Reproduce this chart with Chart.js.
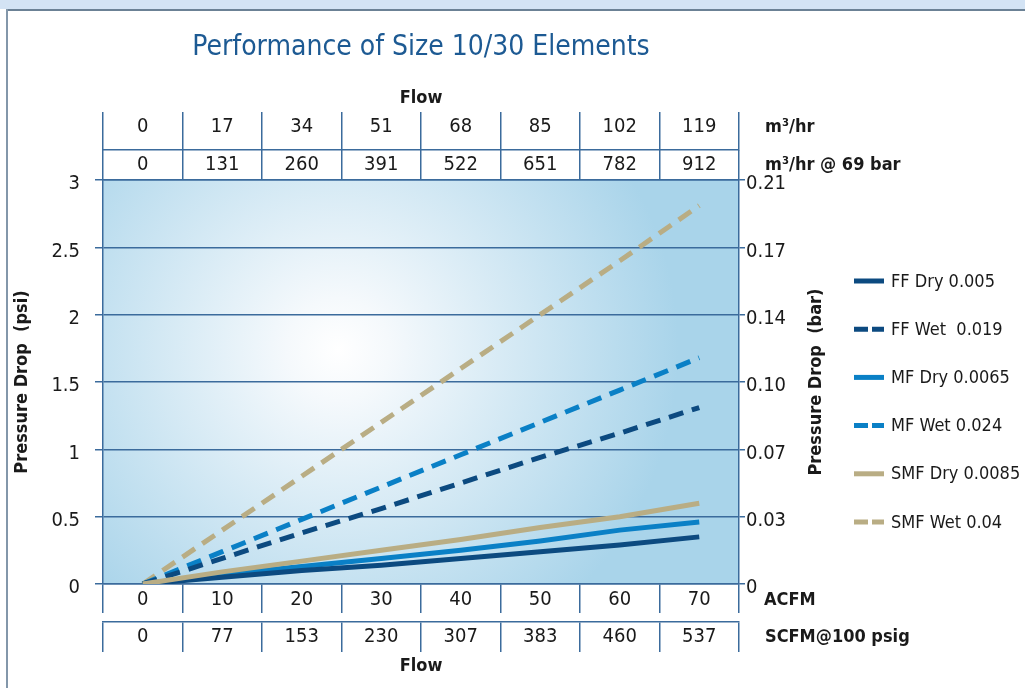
<!DOCTYPE html>
<html>
<head>
<meta charset="utf-8">
<title>Performance of Size 10/30 Elements</title>
<script src="https://cdn.jsdelivr.net/npm/chart.js@4.4.1/dist/chart.umd.min.js"></script>
<style>
  html, body { margin: 0; padding: 0; background: #fff; }
  #wrap { width: 1025px; height: 688px; position: relative; }
</style>
</head>
<body>
<div id="wrap"><canvas id="perfChart" width="1025" height="688"></canvas></div>
<script>
// Flow scales (table rows above and below the plot)
const acfm = [0, 10, 20, 30, 40, 50, 60, 70];
const scfm = [0, 77, 153, 230, 307, 383, 460, 537];
const m3hr = [0, 17, 34, 51, 68, 85, 102, 119];
const m3hr69 = [0, 131, 260, 391, 522, 651, 782, 912];

// Left axis labels (psi) and matching right axis labels (bar)
const psiTicks = ['0', '0.5', '1', '1.5', '2', '2.5', '3'];
const barTicks = ['0', '0.03', '0.07', '0.10', '0.14', '0.17', '0.21'];

// Pressure drop in psi at each ACFM value
const ffDry  = [0, 0.05, 0.10, 0.14, 0.19, 0.24, 0.29, 0.35];
const ffWet  = [0, 0.19, 0.38, 0.56, 0.75, 0.94, 1.12, 1.31];
const mfDry  = [0, 0.07, 0.13, 0.19, 0.25, 0.32, 0.40, 0.46];
const mfWet  = [0, 0.24, 0.48, 0.72, 0.96, 1.20, 1.44, 1.68];
const smfDry = [0, 0.09, 0.17, 0.25, 0.33, 0.42, 0.50, 0.60];
const smfWet = [0, 0.40, 0.80, 1.20, 1.60, 2.00, 2.40, 2.81];

const seriesLabels = ['FF Dry 0.005', 'FF Wet  0.019', 'MF Dry 0.0065', 'MF Wet 0.024', 'SMF Dry 0.0085', 'SMF Wet 0.04'];

const NAVY = '#0c4a80';
const BLUE = '#0a80c6';
const TAN = '#b9ad84';
const LINE = '#3b6b9c';
const FONT = "'Liberation Sans Narrow', 'Arial Narrow', 'DejaVu Sans Condensed', sans-serif";
const DASH = [15, 9];

function pts(values) {
  return acfm.map((x, i) => ({ x: x, y: values[i] }));
}

function makeSet(label, values, color, dashed, order) {
  return {
    label: label,
    data: pts(values),
    borderColor: color,
    backgroundColor: color,
    borderWidth: 5,
    borderDash: dashed ? DASH : [],
    pointRadius: 0,
    tension: 0,
    fill: false,
    order: order
  };
}

// background, frame, right-hand labels and legend
const decorPlugin = {
  id: 'decor',
  beforeDraw(chart) {
    const { ctx, chartArea: a, width, height } = chart;
    ctx.save();
    ctx.fillStyle = '#ffffff';
    ctx.fillRect(0, 0, width, height);
    ctx.fillStyle = '#d3e3f4';
    ctx.fillRect(0, 0, width, 9);
    ctx.fillStyle = '#6b8195';
    ctx.fillRect(6, 9, width - 6, 2);
    ctx.fillStyle = '#8397aa';
    ctx.fillRect(6, 9, 2, height - 9);

    const cx = a.left + (a.right - a.left) * 0.37;
    const cy = a.top + (a.bottom - a.top) * 0.42;
    const g = ctx.createRadialGradient(cx, cy, 0, cx, cy, 340);
    g.addColorStop(0, '#ffffff');
    g.addColorStop(0.15, '#f5f9fc');
    g.addColorStop(1, '#a9d4ea');
    ctx.fillStyle = g;
    ctx.fillRect(a.left, a.top, a.right - a.left, a.bottom - a.top);
    ctx.restore();
  },
  afterDraw(chart) {
    const { ctx, chartArea: a, scales } = chart;
    ctx.save();

    // right axis title
    ctx.fillStyle = '#1a1a1a';
    ctx.font = 'bold 18px ' + FONT;
    ctx.textAlign = 'center';
    ctx.textBaseline = 'middle';
    ctx.translate(816, (a.top + a.bottom) / 2);
    ctx.rotate(-Math.PI / 2);
    ctx.fillText('Pressure Drop  (bar)', 0, 0);
    ctx.restore();

    // unit names beside the table rows
    ctx.save();
    ctx.fillStyle = '#1a1a1a';
    ctx.font = 'bold 18px ' + FONT;
    ctx.textAlign = 'left';
    ctx.textBaseline = 'middle';
    const ux = a.right + 26;
    ctx.fillText('m\u00b3/hr', ux, scales.xTop1.bottom - 23);
    ctx.fillText('m\u00b3/hr @ 69 bar', ux, scales.xTop2.bottom - 15);
    ctx.fillText('ACFM', ux - 1, scales.x.top + 16);
    ctx.fillText('SCFM@100 psig', ux, scales.xBot2.top + 15);

    // legend
    const lx = 854, ly = 281, dy = 48.2;
    ctx.font = '18px ' + FONT;
    chart.data.datasets.forEach((ds, i) => {
      const y = ly + i * dy;
      ctx.strokeStyle = ds.borderColor;
      ctx.lineWidth = 5;
      ctx.lineCap = 'butt';
      ctx.setLineDash(ds.borderDash.length ? [14, 4] : []);
      ctx.beginPath();
      ctx.moveTo(lx, y);
      ctx.lineTo(lx + 30, y);
      ctx.stroke();
      ctx.setLineDash([]);
      ctx.fillStyle = '#1a1a1a';
      ctx.fillText(ds.label, lx + 37, y + 1);
    });
    ctx.restore();
  }
};

function flowAxis(position, weight, height, tickLen, pad, labels, title) {
  const axis = {
    type: 'linear',
    position: position,
    weight: weight,
    min: -5,
    max: 75,
    afterBuildTicks: s => { s.ticks = acfm.map(v => ({ value: v })); },
    afterFit: s => { s.height = height; },
    grid: { offset: true, drawOnChartArea: false, tickLength: tickLen, color: LINE, lineWidth: 1.5 },
    border: { color: LINE, width: 1.5 },
    ticks: {
      padding: pad,
      maxRotation: 0,
      autoSkip: false,
      color: '#1a1a1a',
      font: { family: FONT, size: 20 },
      callback: (v, i) => labels[i]
    }
  };
  if (title) axis.title = title;
  return axis;
}

const ctx = document.getElementById('perfChart');

new Chart(ctx, {
  type: 'line',
  data: {
    datasets: [
      makeSet(seriesLabels[0], ffDry, NAVY, false, 1),
      makeSet(seriesLabels[1], ffWet, NAVY, true, 2),
      makeSet(seriesLabels[2], mfDry, BLUE, false, 1),
      makeSet(seriesLabels[3], mfWet, BLUE, true, 2),
      makeSet(seriesLabels[4], smfDry, TAN, false, 0),
      makeSet(seriesLabels[5], smfWet, TAN, true, 2)
    ]
  },
  options: {
    responsive: false,
    animation: false,
    layout: { padding: 0 },
    plugins: {
      legend: { display: false },
      tooltip: { enabled: false },
      title: {
        display: true,
        fullSize: false,
        text: 'Performance of Size 10/30 Elements',
        color: '#1d5a93',
        font: { family: FONT, size: 28, weight: 'normal' },
        padding: { top: 31, bottom: 20.4 }
      }
    },
    scales: {
      x: flowAxis('bottom', 1, 38, 29, -25, acfm),
      xBot2: flowAxis('bottom', 2, 66, 30, -27, scfm, {
        display: true, text: 'Flow', color: '#1a1a1a',
        font: { family: FONT, size: 18, weight: 'bold' },
        padding: { top: 0, bottom: 11 }
      }),
      xTop2: flowAxis('top', 1, 30, 30, -27, m3hr69),
      xTop1: flowAxis('top', 2, 65, 38, -27, m3hr, {
        display: true, text: 'Flow', color: '#1a1a1a',
        font: { family: FONT, size: 18, weight: 'bold' },
        padding: { top: 3, bottom: 0 }
      }),
      y: {
        position: 'left',
        min: 0,
        max: 3,
        afterFit: s => { s.width = 103; },
        grid: { color: LINE, lineWidth: 1.5, tickLength: 8 },
        border: { color: LINE, width: 1.5 },
        ticks: {
          stepSize: 0.5,
          padding: 15,
          labelOffset: 4,
          color: '#1a1a1a',
          font: { family: FONT, size: 20 },
          callback: (v, i) => psiTicks[i]
        },
        title: {
          display: true,
          text: 'Pressure Drop  (psi)',
          color: '#1a1a1a',
          font: { family: FONT, size: 18, weight: 'bold' },
          padding: { top: 12, bottom: 0 }
        }
      },
      y2: {
        position: 'right',
        min: 0,
        max: 3,
        afterFit: s => { s.width = 286; },
        grid: { drawOnChartArea: false, color: LINE, lineWidth: 1.5, tickLength: 6 },
        border: { color: LINE, width: 1.5 },
        ticks: {
          stepSize: 0.5,
          padding: 1,
          labelOffset: 4,
          color: '#1a1a1a',
          font: { family: FONT, size: 20 },
          callback: (v, i) => barTicks[i]
        }
      }
    }
  },
  plugins: [decorPlugin]
});
</script>
</body>
</html>
